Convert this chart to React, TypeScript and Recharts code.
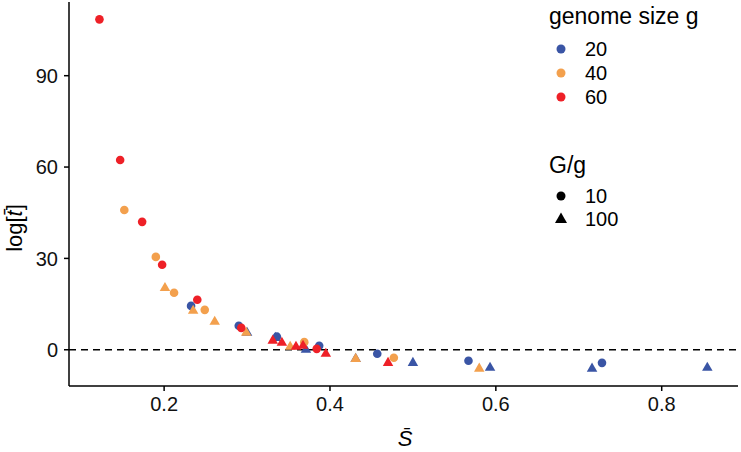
import React from 'react';
import { ScatterChart, Scatter, XAxis, YAxis, ReferenceLine } from 'recharts';

const FONT = '"Liberation Sans", Arial, Helvetica, sans-serif';

// genome size g -> colour
const COLORS = {
  g20: '#3A55A5',
  g40: '#F3A04D',
  g60: '#EE2027',
};

// S-bar vs log[t-bar], split by genome size g and G/g
const g20G10 = [
  { s: 0.2325, t: 14.4 }, { s: 0.29, t: 7.9 }, { s: 0.336, t: 4.3 },
  { s: 0.387, t: 1.3 }, { s: 0.457, t: -1.3 }, { s: 0.567, t: -3.6 },
  { s: 0.728, t: -4.3 },
];
const g20G100 = [
  { s: 0.3, t: 5.6 }, { s: 0.334, t: 3.9 }, { s: 0.371, t: 0 },
  { s: 0.431, t: -3.0 }, { s: 0.5, t: -4.3 }, { s: 0.593, t: -5.9 },
  { s: 0.716, t: -6.2 }, { s: 0.855, t: -5.9 },
];
const g40G10 = [
  { s: 0.152, t: 45.9 }, { s: 0.19, t: 30.5 }, { s: 0.212, t: 18.7 },
  { s: 0.249, t: 13.1 }, { s: 0.369, t: 2.5 }, { s: 0.477, t: -2.6 },
];
const g40G100 = [
  { s: 0.201, t: 20.3 }, { s: 0.235, t: 12.8 }, { s: 0.261, t: 9.2 },
  { s: 0.299, t: 5.6 }, { s: 0.352, t: 1.0 }, { s: 0.431, t: -3.0 },
  { s: 0.58, t: -6.2 },
];
const g60G10 = [
  { s: 0.122, t: 108.5 }, { s: 0.147, t: 62.3 }, { s: 0.1735, t: 42 },
  { s: 0.1976, t: 27.9 }, { s: 0.24, t: 16.4 }, { s: 0.293, t: 7.2 },
  { s: 0.384, t: 0.3 },
];
const g60G100 = [
  { s: 0.331, t: 3.0 }, { s: 0.342, t: 2.3 }, { s: 0.359, t: 1.0 },
  { s: 0.3675, t: 1.3 }, { s: 0.395, t: -1.3 }, { s: 0.47, t: -4.3 },
];

const xTicks = [0.2, 0.4, 0.6, 0.8];
const yTicks = [0, 30, 60, 90];
const sizeLabels = ['20', '40', '60'];
const ratioLabels = ['10', '100'];

const circle = (color: string, r = 4.3) => (p: any) =>
  <circle cx={p.cx} cy={p.cy} r={r} fill={color} />;

const triangle = (color: string, side = 10.5) => (p: any) => {
  const h = side * 0.866;
  const { cx, cy } = p;
  const pts = `${cx},${cy - (h * 2) / 3} ${cx - side / 2},${cy + h / 3} ${cx + side / 2},${cy + h / 3}`;
  return <polygon points={pts} fill={color} />;
};

const tickStyle = { fontSize: 20, fill: '#111', fontFamily: FONT };

export default function App() {
  const legendColors = [COLORS.g20, COLORS.g40, COLORS.g60];
  return (
    <div style={{ position: 'absolute', left: 0, top: 0, width: 741, height: 452, background: '#fff' }}>
      <ScatterChart width={741} height={452} margin={{ top: 2, right: 3, left: 0, bottom: 0 }}>
        <XAxis
          type="number"
          dataKey="s"
          domain={[0.0853, 0.892]}
          ticks={xTicks}
          allowDataOverflow
          tickFormatter={(v: number) => v.toFixed(1)}
          height={66}
          tickSize={5}
          tickMargin={6}
          stroke="#000"
          strokeWidth={1.5}
          tick={tickStyle}
        />
        <YAxis
          type="number"
          dataKey="t"
          domain={[-11.9, 114.2]}
          ticks={yTicks}
          allowDataOverflow
          width={69}
          tickSize={5}
          tickMargin={6}
          stroke="#000"
          strokeWidth={1.5}
          tick={tickStyle}
        />
        <Scatter data={g20G10} shape={circle(COLORS.g20)} isAnimationActive={false} />
        <Scatter data={g20G100} shape={triangle(COLORS.g20)} isAnimationActive={false} />
        <Scatter data={g40G10} shape={circle(COLORS.g40)} isAnimationActive={false} />
        <Scatter data={g40G100} shape={triangle(COLORS.g40)} isAnimationActive={false} />
        <Scatter data={g60G10} shape={circle(COLORS.g60)} isAnimationActive={false} />
        <Scatter data={g60G100} shape={triangle(COLORS.g60)} isAnimationActive={false} />
        <ReferenceLine y={0} stroke="#000" strokeWidth={1.5} strokeDasharray="7 5" />
      </ScatterChart>

      <svg
        width={741}
        height={452}
        style={{ position: 'absolute', left: 0, top: 0, pointerEvents: 'none' }}
        fontFamily={FONT}
      >
        {/* axis titles */}
        <text x={405} y={446} textAnchor="middle" fontSize={22} fontStyle="italic" fill="#000">
          {'S\u0304'}
        </text>
        <text transform="translate(22,228) rotate(-90)" textAnchor="middle" fontSize={22} fill="#000">
          log[<tspan fontStyle="italic">{'t\u0304'}</tspan>]
        </text>

        {/* colour legend */}
        <text x={549} y={24} fontSize={23} fill="#000">genome size g</text>
        {sizeLabels.map((lab, i) => (
          <g key={lab}>
            <circle cx={561} cy={49 + i * 24} r={4.5} fill={legendColors[i]} />
            <text x={585} y={49 + i * 24 + 7} fontSize={20} fill="#000">{lab}</text>
          </g>
        ))}

        {/* shape legend */}
        <text x={549} y={173} fontSize={23} fill="#000">G/g</text>
        <circle cx={561} cy={196} r={4.5} fill="#000" />
        <text x={585} y={203} fontSize={20} fill="#000">{ratioLabels[0]}</text>
        <polygon points="561,212.5 555,223 567,223" fill="#000" />
        <text x={585} y={226} fontSize={20} fill="#000">{ratioLabels[1]}</text>
      </svg>
    </div>
  );
}
